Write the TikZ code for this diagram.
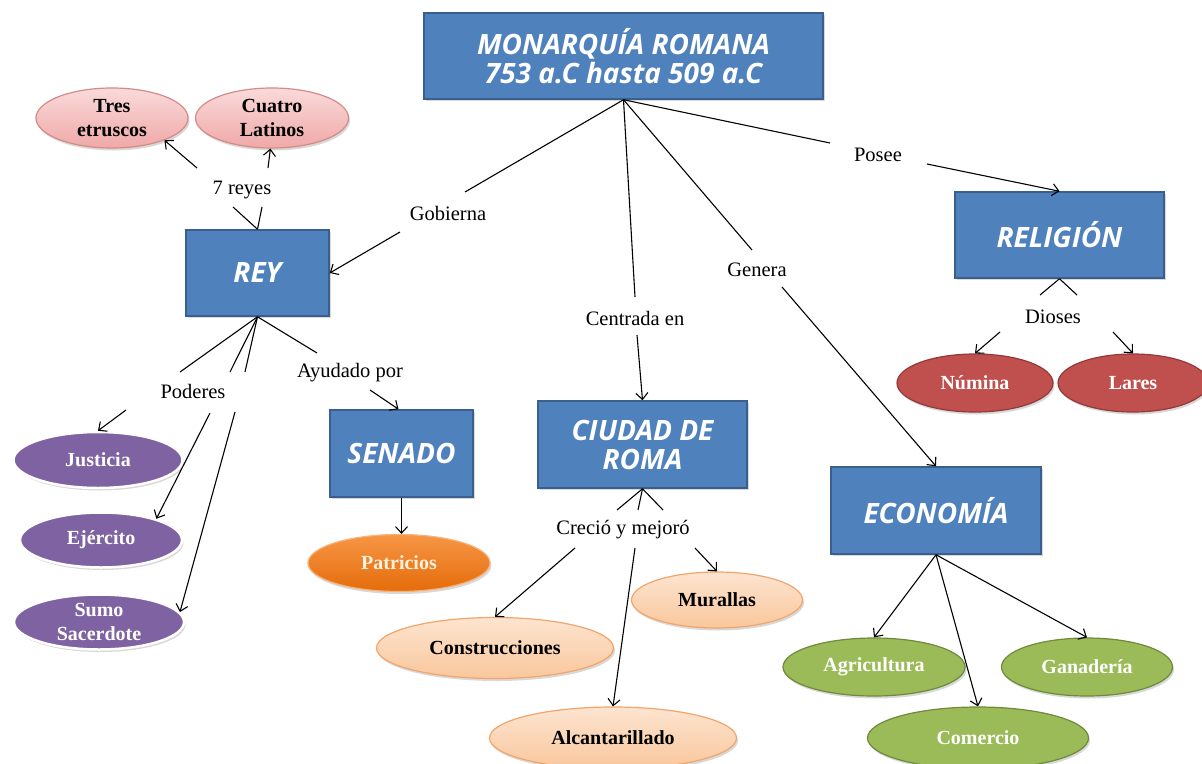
\documentclass[tikz,border=0pt]{standalone}
\usepackage{fontspec}
\setmainfont{Liberation Serif}
\newfontfamily\boxfont{Open Sans}
\usetikzlibrary{shapes.geometric,arrows.meta,calc,shadows}
\definecolor{boxblue}{HTML}{4F81BD}
\definecolor{boxedge}{HTML}{3A5F8E}
\definecolor{pinktop}{HTML}{FADADA}
\definecolor{pinkbot}{HTML}{EFA9A8}
\definecolor{pinkedge}{HTML}{D58A89}
\definecolor{purp}{HTML}{7F62A1}
\definecolor{orgtop}{HTML}{F79646}
\definecolor{orgbot}{HTML}{E46C0A}
\definecolor{orgedge}{HTML}{F7B27A}
\definecolor{peachtop}{HTML}{FDE4D0}
\definecolor{peachbot}{HTML}{F9C79C}
\definecolor{peachedge}{HTML}{F2A56A}
\definecolor{redfill}{HTML}{C0504D}
\definecolor{rededge}{HTML}{93393A}
\definecolor{grnfill}{HTML}{9BBB59}
\definecolor{grnedge}{HTML}{6E8A3A}
\definecolor{cream}{HTML}{FFF3E0}
\begin{document}
\begin{tikzpicture}[x=1pt,y=-1pt,
  box/.style={draw=boxedge, line width=1.5pt, fill=boxblue, text=white,
    font=\boxfont\bfseries\itshape\fontsize{28}{29}\selectfont, align=center, inner sep=0pt,
    drop shadow={opacity=0.3,shadow xshift=1.5pt,shadow yshift=-2pt}},
  ell/.style={ellipse, inner sep=0pt, align=center, line width=1.2pt,
    font=\bfseries\fontsize{20}{24}\selectfont,
    drop shadow={opacity=0.3,shadow xshift=1.5pt,shadow yshift=-2.5pt}},
  pinkell/.style={ell, draw=pinkedge, top color=pinktop, bottom color=pinkbot, text=black},
  purpell/.style={ell, draw=white, line width=2.5pt, fill=purp, text=white},
  orgell/.style={ell, draw=orgedge, top color=orgtop, bottom color=orgbot, text=cream},
  peachell/.style={ell, draw=peachedge, top color=peachtop, bottom color=peachbot, text=black},
  redell/.style={ell, draw=rededge, fill=redfill, text=white},
  grnell/.style={ell, draw=grnedge, fill=grnfill, text=white},
  lab/.style={font=\fontsize{20.5}{23}\selectfont, inner sep=0pt},
  lnk/.style={draw=black, line width=1.1pt},
  arr/.style={lnk, -{Straight Barb[length=6.5pt,width=12pt]}}]
\useasboundingbox[fill=white] (0,0) rectangle (1202,763);

% boxes
\node[box, minimum width=399pt, minimum height=86pt] (top) at (623.5,56) {MONARQUÍA ROMANA\\753 a.C hasta 509 a.C};
\node[box, minimum width=143pt, minimum height=86pt] (rey) at (257.5,273) {REY};
\node[box, minimum width=143pt, minimum height=87pt] (senado) at (401.5,453.5) {SENADO};
\node[box, minimum width=209pt, minimum height=87pt] (ciudad) at (642.5,444.5) {CIUDAD DE\\ROMA};
\node[box, minimum width=209pt, minimum height=86pt] (rel) at (1059.5,235) {RELIGIÓN};
\node[box, minimum width=210pt, minimum height=87pt] (eco) at (936,510.5) {ECONOMÍA};

% ellipses
\node[pinkell, minimum width=152pt, minimum height=60pt] (tres) at (112,118) {Tres\\etruscos};
\node[pinkell, minimum width=153pt, minimum height=60pt] (cuatro) at (272,118) {Cuatro\\Latinos};
\node[purpell, minimum width=169pt, minimum height=56pt] (justicia) at (98,460) {Justicia};
\node[purpell, minimum width=162pt, minimum height=55pt] (ejercito) at (101,540) {Ejército};
\node[purpell, minimum width=170pt, minimum height=55pt] (sumo) at (99,622) {Sumo\\Sacerdote};
\node[orgell, minimum width=182pt, minimum height=57pt] (patricios) at (399,563) {Patricios};
\node[peachell, minimum width=237pt, minimum height=61pt] (constr) at (495,648) {Construcciones};
\node[peachell, minimum width=171pt, minimum height=56pt] (murallas) at (717,600) {Murallas};
\node[peachell, minimum width=247pt, minimum height=62pt] (alcant) at (613,738) {Alcantarillado};
\node[redell, minimum width=156pt, minimum height=58pt] (numina) at (975,383) {Númina};
\node[redell, minimum width=150pt, minimum height=58pt] (lares) at (1133,383) {Lares};
\node[grnell, minimum width=182pt, minimum height=58pt] (agric) at (874,667) {Agricultura};
\node[grnell, minimum width=171pt, minimum height=58pt] (ganad) at (1087,667) {Ganadería};
\node[grnell, minimum width=221pt, minimum height=62pt] (comercio) at (978,738) {Comercio};

% linking labels
\node[lab] (lgob) at (448,213) {Gobierna};
\node[lab] (lcen) at (635,318) {Centrada en};
\node[lab] (lgen) at (757,270) {Genera};
\node[lab] (lpos) at (878,155) {Posee};
\node[lab] (l7) at (242,190) {7 reyes};
\node[lab] (lpod) at (193,391) {Poderes};
\node[lab] (lay) at (350,373) {Ayudado por};
\node[lab] (lcre) at (623,530) {Creció y mejoró};
\node[lab] (ldio) at (1053,317) {Dioses};

% connectors from the title
\draw[lnk] (top.south) -- ($(lgob)+(17,-21)$);
\draw[arr] ($(lgob)+(-48,19)$) -- (rey.east);
\draw[lnk] (top.south) -- ($(lcen)+(0,-21)$);
\draw[arr] ($(lcen)+(2,17)$) -- (ciudad.north);
\draw[lnk] (top.south) -- ($(lgen)+(-5,-20)$);
\draw[arr] ($(lgen)+(25,17)$) -- (eco.north);
\draw[lnk] (top.south) -- ($(lpos)+(-48,-12)$);
\draw[arr] ($(lpos)+(49,9)$) -- (rel.north);

% REY
\draw[lnk] (rey.north) -- ($(l7)+(-9,17)$);
\draw[lnk] (rey.north) -- ($(l7)+(20,17)$);
\draw[arr] ($(l7)+(-45,-22)$) -- (tres.-23);
\draw[arr] ($(l7)+(26,-22)$) -- (cuatro.-93);
\draw[lnk] (rey.south) -- ($(lpod)+(-13,-19)$);
\draw[lnk] (rey.south) -- ($(lpod)+(37,-19)$);
\draw[lnk] (rey.south) -- ($(lpod)+(52,-19)$);
\draw[arr] ($(lpod)+(-67,19)$) -- (justicia.north);
\draw[arr] ($(lpod)+(17,22)$) -- (ejercito.21);
\draw[arr] ($(lpod)+(42,21)$) -- (sumo.7);
\draw[lnk] (rey.south) -- ($(lay)+(-33,-20)$);
\draw[arr] ($(lay)+(20,17)$) -- ([xshift=-3pt]senado.north);
\draw[arr] (senado.south) -- (senado.south |- patricios.north);

% CIUDAD
\draw[lnk] (ciudad.south) -- ($(lcre)+(-6,-20)$);
\draw[lnk] (ciudad.south) -- ($(lcre)+(15,-20)$);
\draw[lnk] (ciudad.south) -- ($(lcre)+(40,-20)$);
\draw[arr] ($(lcre)+(-48,18)$) -- (constr.north);
\draw[arr] ($(lcre)+(12,18)$) -- (alcant.north);
\draw[arr] ($(lcre)+(72,18)$) -- (murallas.north);

% RELIGION
\draw[lnk] (rel.south) -- ($(ldio)+(-13,-22)$);
\draw[lnk] (rel.south) -- ($(ldio)+(24,-22)$);
\draw[arr] ($(ldio)+(-53,15)$) -- (numina.north);
\draw[arr] ($(ldio)+(60,15)$) -- (lares.north);

% ECONOMIA
\draw[arr] (eco.south) -- (agric.north);
\draw[arr] (eco.south) -- (comercio.north);
\draw[arr] (eco.south) -- (ganad.north);
\end{tikzpicture}
\end{document}
